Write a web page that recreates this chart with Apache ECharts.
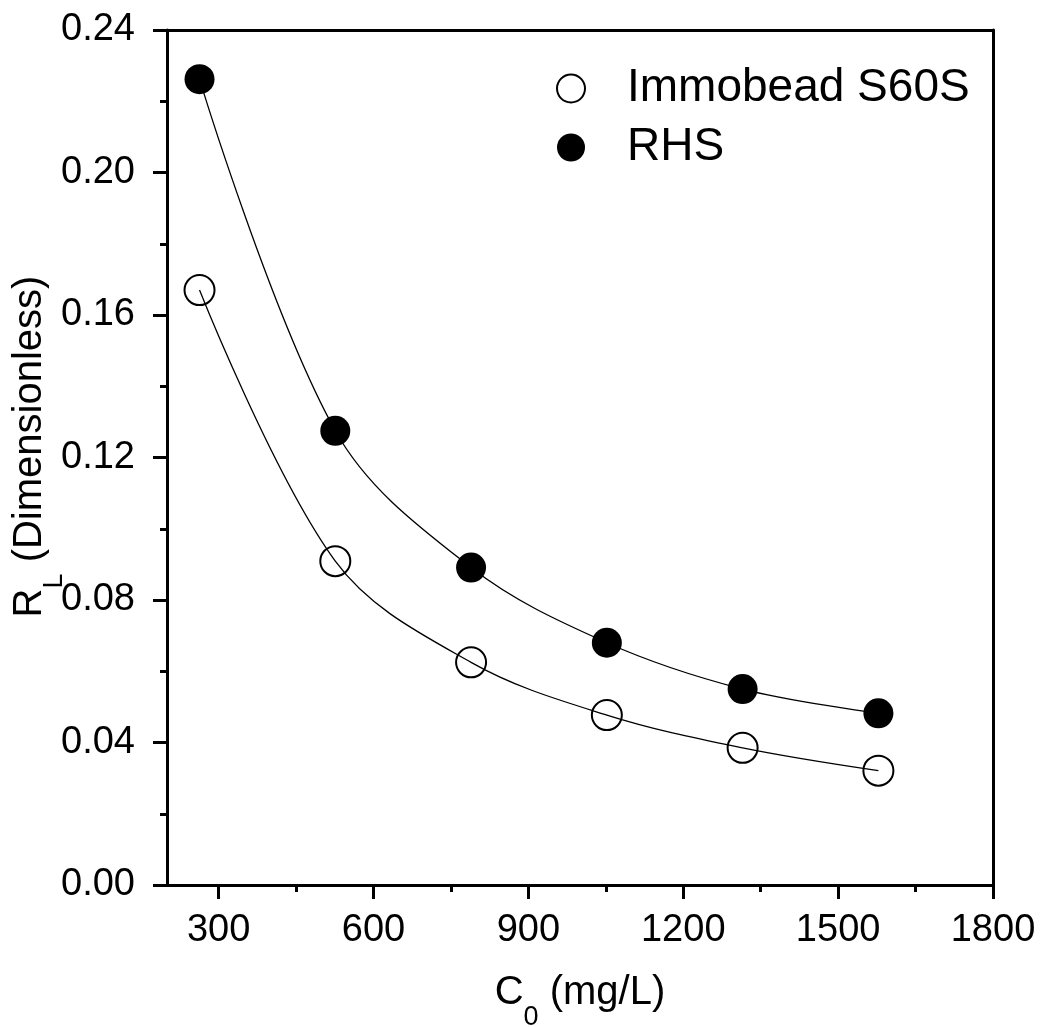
<!DOCTYPE html>
<html><head><meta charset="utf-8">
<script src="https://cdn.jsdelivr.net/npm/echarts@6/dist/echarts.min.js"></script>
<style>html,body{margin:0;padding:0;background:#fff}#c{width:1040px;height:1027px}</style>
</head><body><div id="c"></div>
<script>
const c0 = [263, 526, 789, 1052, 1315, 1578];
const immobead = [0.1670, 0.0909, 0.0625, 0.0477, 0.0385, 0.0321];
const rhs = [0.2262, 0.1275, 0.0891, 0.0680, 0.0550, 0.0482];
const xMajorTicks = [300, 600, 900, 1200, 1500, 1800];
const xMinorTicks = [450, 750, 1050, 1350, 1650];
const seriesNames = ['Immobead S60S', 'RHS'];

const FONT = '"Liberation Sans", Arial, sans-serif';
const chart = echarts.init(document.getElementById('c'), null, {renderer: 'canvas'});
const pairs = ys => c0.map((x, i) => [x, ys[i]]);
const lineAxis = {show: true, onZero: false, lineStyle: {color: '#000', width: 3}};
const titleRich = {
  a: {fontSize: 40, fontFamily: FONT, color: '#000', verticalAlign: 'top'},
  b: {fontSize: 27, fontFamily: FONT, color: '#000', verticalAlign: 'top', padding: [31, 0, 0, 0]}
};

chart.setOption({
  animation: false,
  backgroundColor: '#fff',
  grid: {left: 167, right: 47, top: 30, bottom: 142, containLabel: false, outerBoundsMode: 'none'},
  legend: {
    data: seriesNames, orient: 'vertical', left: 556, top: 65, padding: 0,
    itemWidth: 102, itemHeight: 28, itemGap: 12, selectedMode: false,
    textStyle: {fontSize: 46, lineHeight: 47, color: '#000', fontFamily: FONT}
  },
  xAxis: [
    {
      type: 'value', position: 'bottom', min: 200, max: 1800,
      axisLine: lineAxis,
      axisTick: {show: true, customValues: xMajorTicks, length: 14, lineStyle: {color: '#000', width: 3}},
      axisLabel: {customValues: xMajorTicks, margin: 27, fontSize: 38, color: '#000', fontFamily: FONT,
                  formatter: v => String(v)},
      splitLine: {show: false},
      name: '{a|C}{b|0}{a| (mg/L)}', nameLocation: 'middle', nameGap: 88, nameMoveOverlap: false,
      nameTextStyle: {rich: titleRich}
    },
    {
      type: 'value', position: 'bottom', min: 200, max: 1800,
      axisLine: {show: false},
      axisTick: {show: true, customValues: xMinorTicks, length: 7, lineStyle: {color: '#000', width: 3}},
      axisLabel: {show: false}, splitLine: {show: false}
    },
    {
      type: 'value', position: 'top', min: 200, max: 1800,
      axisLine: lineAxis, axisTick: {show: false}, axisLabel: {show: false}, splitLine: {show: false}
    }
  ],
  yAxis: [
    {
      type: 'value', min: 0, max: 0.24, interval: 0.04,
      axisLine: lineAxis,
      axisTick: {show: true, length: 14, lineStyle: {color: '#000', width: 3}},
      minorTick: {show: true, splitNumber: 2, length: 7, lineStyle: {color: '#000', width: 3}},
      axisLabel: {margin: 32, fontSize: 38, color: '#000', fontFamily: FONT, formatter: v => v.toFixed(2)},
      splitLine: {show: false}, minorSplitLine: {show: false},
      name: '{a|R}{b|L}{a| (Dimensionless)}', nameLocation: 'middle', nameRotate: 90, nameGap: 99,
      nameMoveOverlap: false,
      nameTextStyle: {padding: [0, 0, 0, 22], rich: titleRich}
    },
    {
      type: 'value', position: 'right', min: 0, max: 0.24,
      axisLine: lineAxis, axisTick: {show: false}, axisLabel: {show: false}, splitLine: {show: false}
    }
  ],
  series: [
    {name: 'fit1', type: 'line', data: pairs(immobead), smooth: 0.35, symbol: 'none', silent: true,
     lineStyle: {color: '#000', width: 1.3}, z: 2},
    {name: 'fit2', type: 'line', data: pairs(rhs), smooth: 0.35, symbol: 'none', silent: true,
     lineStyle: {color: '#000', width: 1.3}, z: 2},
    {name: seriesNames[0], type: 'scatter', data: pairs(immobead), symbol: 'circle', symbolSize: 30,
     itemStyle: {color: 'rgba(255,255,255,0)', borderColor: '#000', borderWidth: 2, opacity: 1}, z: 3},
    {name: seriesNames[1], type: 'scatter', data: pairs(rhs), symbol: 'circle', symbolSize: 30,
     itemStyle: {color: '#000', borderColor: '#000', borderWidth: 0, opacity: 1}, z: 3}
  ]
});
</script></body></html>
